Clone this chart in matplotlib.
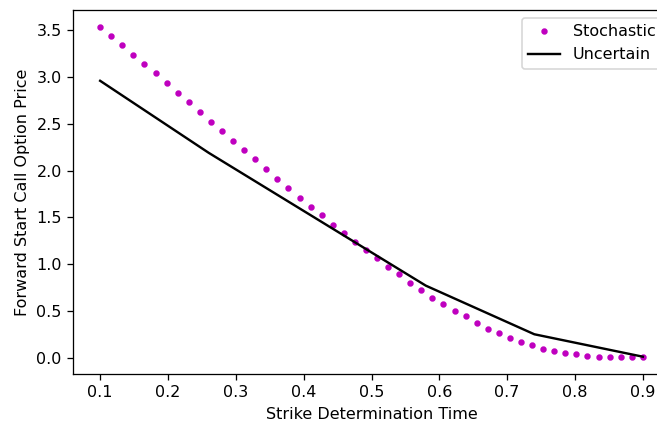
import numpy as np
import matplotlib
matplotlib.use("Agg")
import matplotlib.pyplot as plt

# strike determination times (50 evenly spaced samples) and prices
t_stoch = np.linspace(0.1, 0.9, 50)
stochastic = [3.54, 3.44, 3.34, 3.24, 3.14, 3.04, 2.94, 2.83, 2.73, 2.63,
              2.52, 2.42, 2.32, 2.22, 2.12, 2.02, 1.91, 1.81, 1.71, 1.61,
              1.52, 1.42, 1.33, 1.24, 1.15, 1.06, 0.97, 0.89, 0.80, 0.72,
              0.64, 0.57, 0.50, 0.44, 0.37, 0.31, 0.26, 0.21, 0.17, 0.13,
              0.09, 0.07, 0.05, 0.035, 0.02, 0.012, 0.008, 0.005, 0.003, 0.002]

t_unc = [0.1, 0.26, 0.42, 0.58, 0.74, 0.9]
uncertain = [2.96, 2.19, 1.48, 0.77, 0.25, 0.01]

DPI = 115
fig = plt.figure(figsize=(657 / DPI, 423 / DPI), dpi=DPI)
# right edge of the axes runs past the picture, as in the reference crop
ax = fig.add_axes([73 / 657, 49 / 423, 597 / 657, 364 / 423])
ax.plot(t_stoch, stochastic, 'm.', label='Stochastic')
ax.plot(t_unc, uncertain, 'k', label='Uncertain')
ax.set(xlabel='Strike Determination Time', ylabel='Forward Start Call Option Price')
ax.set_xticks([0.1, 0.2, 0.3, 0.4, 0.5, 0.6, 0.7, 0.8, 0.9])
ax.legend(loc='upper right')
plt.savefig('out.png', dpi=DPI)
